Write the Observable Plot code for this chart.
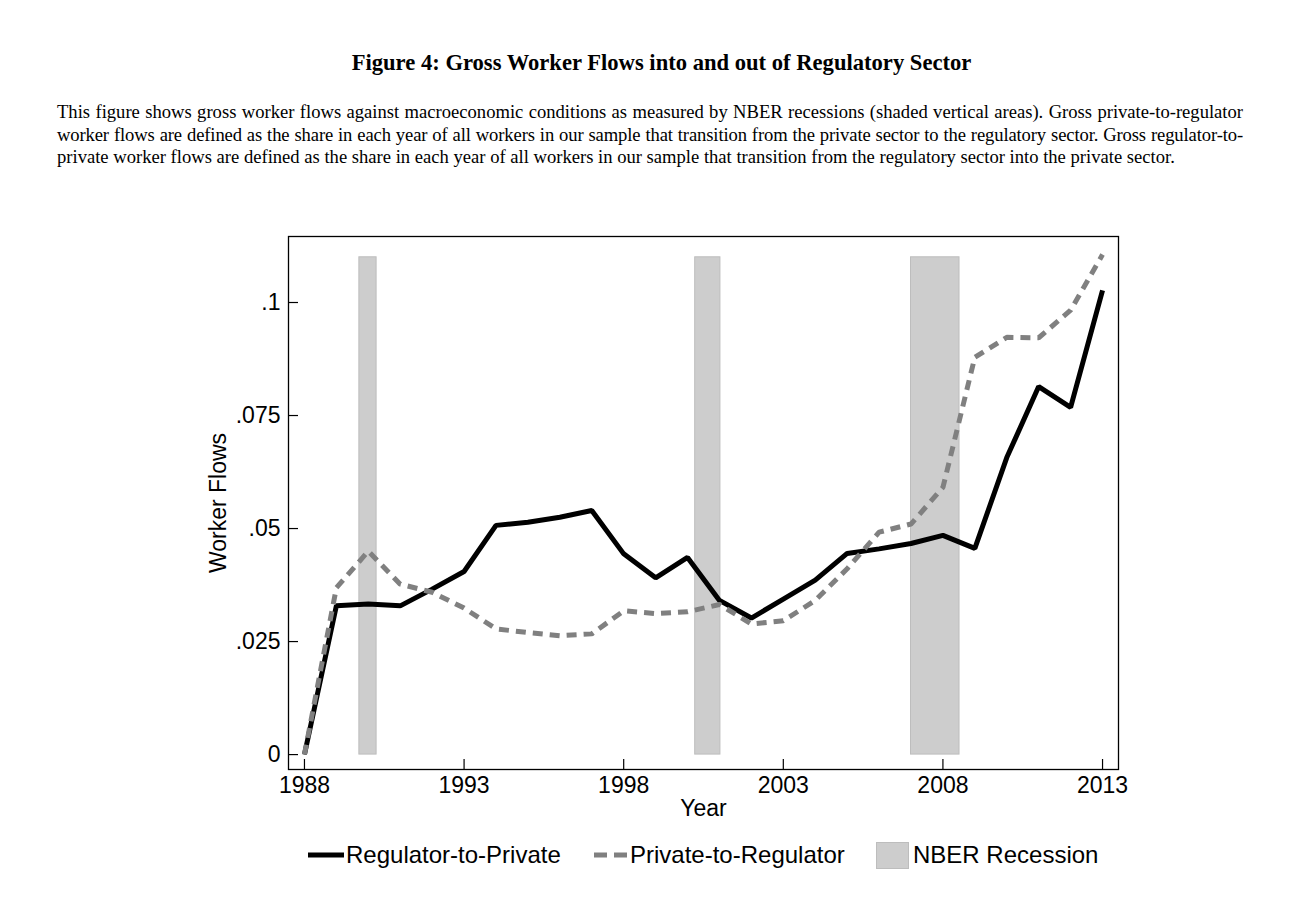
<!DOCTYPE html>
<html>
<head>
<meta charset="utf-8">
<script src="https://cdn.jsdelivr.net/npm/d3@7"></script>
<script src="https://cdn.jsdelivr.net/npm/@observablehq/plot@0.6"></script>
<style>
  html, body { margin: 0; padding: 0; background: #fff; }
  body { width: 1299px; height: 902px; position: relative; overflow: hidden; }
  #title { position: absolute; top: 50px; left: 12px; width: 1299px; text-align: center;
    font-family: "Liberation Serif", "Times New Roman", serif; font-weight: bold; font-size: 22.6px; line-height: 26px; }
  #caption { position: absolute; top: 101px; left: 57px; width: 1186px;
    font-family: "Liberation Serif", "Times New Roman", serif; font-size: 18.6px; line-height: 22.5px; color: #000; }
  #caption div { text-align: justify; text-align-last: justify; white-space: nowrap; }
  #caption div.l2 { letter-spacing: -0.12px; }
  #caption div.last { text-align-last: left; }
  #chart { position: absolute; top: 200px; left: 0; }
  .leg { position: absolute; font-family: "Liberation Sans", Arial, sans-serif; font-size: 24px; line-height: 28px; top: 841px; color: #000; }
  .sw { position: absolute; }
</style>
</head>
<body>
<div id="title">Figure 4: Gross Worker Flows into and out of Regulatory Sector</div>
<div id="caption">
  <div>This figure shows gross worker flows against macroeconomic conditions as measured by NBER recessions (shaded vertical areas). Gross private-to-regulator</div>
  <div class="l2">worker flows are defined as the share in each year of all workers in our sample that transition from the private sector to the regulatory sector. Gross regulator-to-</div>
  <div class="last">private worker flows are defined as the share in each year of all workers in our sample that transition from the regulatory sector into the private sector.</div>
</div>
<div id="chart"></div>

<svg class="sw" style="left:308px;top:850px" width="36" height="10"><line x1="0" y1="5" x2="36" y2="5" stroke="#000" stroke-width="5"/></svg>
<div class="leg" style="left:346px">Regulator-to-Private</div>
<svg class="sw" style="left:594px;top:850px" width="34" height="10"><line x1="0" y1="5" x2="34" y2="5" stroke="#808080" stroke-width="5" stroke-dasharray="13,7"/></svg>
<div class="leg" style="left:630px">Private-to-Regulator</div>
<div class="sw" style="left:876px;top:842px;width:31px;height:25px;background:#cdcdcd;border:1px solid #bdbdbd"></div>
<div class="leg" style="left:913px">NBER Recession</div>

<script>
const years = [1988, 1989, 1990, 1991, 1992, 1993, 1994, 1995, 1996, 1997, 1998, 1999, 2000,
               2001, 2002, 2003, 2004, 2005, 2006, 2007, 2008, 2009, 2010, 2011, 2012, 2013];
const regulatorToPrivate = [0, 0.0329, 0.0333, 0.0329, 0.0366, 0.0405, 0.0507, 0.0514, 0.0525, 0.0540,
  0.0444, 0.0391, 0.0436, 0.0341, 0.0302, 0.0344, 0.0386, 0.0445, 0.0455, 0.0467, 0.0485, 0.0456,
  0.0657, 0.0814, 0.0768, 0.1027];
const privateToRegulator = [0, 0.0369, 0.0450, 0.0377, 0.0359, 0.0324, 0.0278, 0.0270, 0.0263, 0.0267,
  0.0318, 0.0312, 0.0316, 0.0332, 0.0289, 0.0296, 0.0341, 0.0411, 0.0492, 0.0510, 0.0591, 0.0879,
  0.0923, 0.0922, 0.0983, 0.1106];
const recessionStart = [1989.72, 2000.24, 2007.0];
const recessionEnd = [1990.26, 2001.03, 2008.52];
const recessionTop = 0.11;
const xTicks = [1988, 1993, 1998, 2003, 2008, 2013];
const yTicks = [0, 0.025, 0.05, 0.075, 0.1];
const yTickLabels = ["0", ".025", ".05", ".075", ".1"];

const rp = years.map((y, i) => ({year: y, value: regulatorToPrivate[i]}));
const pr = years.map((y, i) => ({year: y, value: privateToRegulator[i]}));
const rec = recessionStart.map((s, i) => ({x1: s, x2: recessionEnd[i], y1: 0, y2: recessionTop}));

const W = 1299, H = 630;
const mL = 288, mR = 181, mT = 36, mB = 61;
const frameW = W - mL - mR, frameH = H - mT - mB;

const chart = Plot.plot({
  width: W, height: H,
  marginLeft: mL, marginRight: mR, marginTop: mT, marginBottom: mB,
  style: {fontFamily: "'Liberation Sans', Arial, sans-serif", fontSize: "23px", color: "#000", background: "#fff"},
  x: {type: "linear", domain: [1987.5, 2013.5]},
  y: {domain: [-0.0033, 0.1146]},
  marks: [
    Plot.rect(rec, {x1: "x1", x2: "x2", y1: "y1", y2: "y2", fill: "#cdcdcd", stroke: "#bdbdbd", strokeWidth: 1}),
    Plot.line(rp, {x: "year", y: "value", stroke: "#000", strokeWidth: 5, strokeLinejoin: "miter", strokeLinecap: "butt"}),
    Plot.line(pr, {x: "year", y: "value", stroke: "#808080", strokeWidth: 5, strokeDasharray: "10,7", strokeLinejoin: "miter", strokeLinecap: "butt"}),
    Plot.frame({stroke: "#000", strokeWidth: 1.3}),
    Plot.tickY(yTicks, {y: d => d, stroke: "#000", strokeWidth: 1.2, insetRight: frameW - 10}),
    Plot.tickX(xTicks, {x: d => d, stroke: "#000", strokeWidth: 1.2, insetTop: frameH - 10}),
    Plot.axisX(xTicks, {tickSize: 0, tickPadding: 7, tickFormat: d => String(d), fontSize: 23, label: null, fill: "#000"}),
    Plot.axisY(yTicks, {tickSize: 0, tickPadding: 8, tickFormat: d => yTickLabels[yTicks.indexOf(d)], fontSize: 23, label: null, fill: "#000"}),
    Plot.text(["Year"], {frameAnchor: "bottom", dy: 39, lineAnchor: "middle", textAnchor: "middle", text: d => d, fontSize: 23, fill: "#000"}),
    Plot.text(["Worker Flows"], {frameAnchor: "left", dx: -70, rotate: -90, lineAnchor: "middle", textAnchor: "middle", text: d => d, fontSize: 23, fill: "#000"})
  ]
});
document.getElementById("chart").appendChild(chart);
</script>
</body>
</html>
